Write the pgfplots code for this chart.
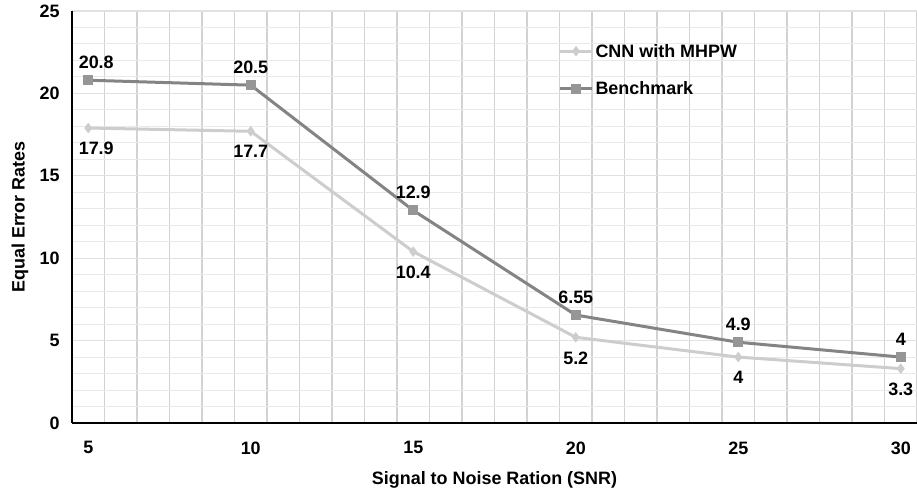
\documentclass[border=0pt]{standalone}
\usepackage{pgfplots}
\pgfplotsset{compat=1.18}
\usepackage{fontspec}
\setmainfont{Liberation Sans}

\definecolor{cnn}{RGB}{205,205,205}
\definecolor{bench}{RGB}{132,132,132}
\definecolor{gridv}{RGB}{210,210,210}
\definecolor{gridh}{RGB}{225,225,225}

\begin{document}
\begin{tikzpicture}
\begin{axis}[
    at={(72bp,66bp)}, anchor=south west,
    scale only axis,
    width=845bp, height=412bp,
    xmin=4.5, xmax=30.5,
    ymin=0, ymax=25,
    xtick={5,10,...,30},
    minor xtick={5.5,6.5,...,30.5},
    ytick={0,5,...,25},
    minor ytick={1,...,24},
    xmajorgrids=false, xminorgrids=true,
    ymajorgrids=true, yminorgrids=true,
    minor x grid style={gridv, line width=1.2bp},
    major y grid style={gridh, line width=1.2bp},
    minor y grid style={gridh!75!white, line width=1bp},
    axis x line*=bottom, axis y line*=left,
    axis line style={-, black, line width=2bp},
    major tick length=0pt, minor tick length=0pt,
    tick style={draw=none},
    font=\fontsize{18}{21}\selectfont\bfseries,
    /pgf/number format/assume math mode=true,
    ticklabel style={font=\fontsize{18}{21}\selectfont\bfseries},
    xticklabel style={yshift=-15bp},
    yticklabel style={xshift=-9bp},
    xlabel={Signal to Noise Ration (SNR)},
    ylabel={Equal Error Rates},
    xlabel style={at={(axis description cs:0.5,-0.138)}, anchor=center},
    ylabel style={at={(axis description cs:-0.0615,0.5)}, anchor=center},
    legend style={at={(rel axis cs:0.572,0.93)}, anchor=north west,
        draw=none, fill=none, row sep=19bp,
        font=\fontsize{18}{21}\selectfont\bfseries,
        nodes={inner sep=2bp}},
    legend cell align=left,
    legend image code/.code={
        \draw[mark repeat=2,mark phase=2] plot coordinates {(0bp,0bp) (16bp,0bp) (32bp,0bp)};},
    nodes near coords,
    point meta=explicit symbolic,
    clip=false,
]
\addplot[cnn, line width=3bp, mark=diamond*, mark size=4.5bp,
    mark options={fill=cnn, draw=cnn, line width=1bp},
    nodes near coords style={anchor=north, yshift=-10.5bp, text=black, font=\fontsize{18}{21}\selectfont\bfseries},
    coordinate style/.condition={x==5}{xshift=8bp}]
coordinates {
    (5,17.9)[17.9] (10,17.7)[17.7] (15,10.4)[10.4]
    (20,5.2)[5.2] (25,4)[4] (30,3.3)[3.3]
};
\addlegendentry{CNN with MHPW}
\addplot[bench, line width=3bp, mark=square*, mark size=4.5bp,
    mark options={fill=bench!85!white, draw=bench!85!white, line width=1bp},
    nodes near coords style={anchor=south, yshift=7.5bp, text=black, font=\fontsize{18}{21}\selectfont\bfseries},
    coordinate style/.condition={x==5}{xshift=8bp}]
coordinates {
    (5,20.8)[20.8] (10,20.5)[20.5] (15,12.9)[12.9]
    (20,6.55)[6.55] (25,4.9)[4.9] (30,4)[4]
};
\addlegendentry{Benchmark}
\end{axis}
\pgfresetboundingbox
\path (0,0) rectangle (917bp,489bp);
\end{tikzpicture}
\end{document}
